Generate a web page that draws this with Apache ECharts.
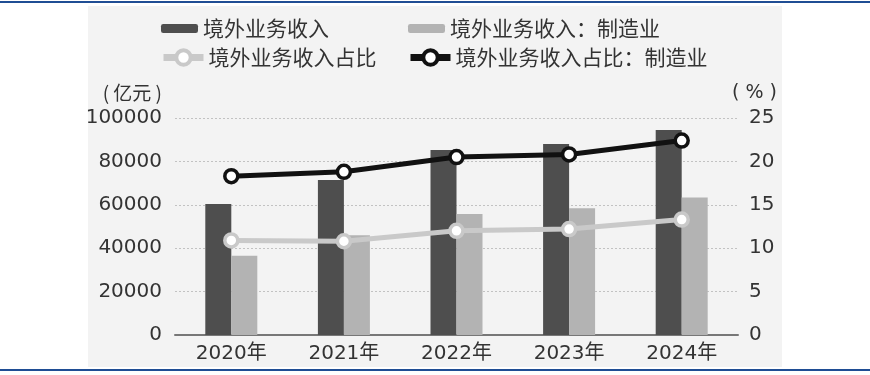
<!DOCTYPE html>
<html>
<head>
<meta charset="utf-8">
<script src="https://cdn.jsdelivr.net/npm/echarts@6/dist/echarts.min.js"></script>
<style>
html,body{margin:0;padding:0;background:#fff;}
#c{width:870px;height:375px;}
</style>
</head>
<body>
<div id="c"></div>
<script>
var categories = ['2020年', '2021年', '2022年', '2023年', '2024年'];
var revenue = [60400, 71400, 85300, 88000, 94500];
var mfgRevenue = [36500, 46000, 55800, 58400, 63400];
var share = [10.9, 10.8, 12.0, 12.2, 13.3];
var mfgShare = [18.3, 18.8, 20.5, 20.8, 22.4];
var leftTicks = [0, 100000, 20000];
var rightTicks = [0, 25, 5];

var FONT = 'DejaVu Sans, "Noto Sans CJK SC", sans-serif';
var CJK = '"Noto Sans CJK SC", sans-serif';
var TXT = '#333333';

var chart = echarts.init(document.getElementById('c'), null, {renderer: 'canvas'});
function legend(name, left, top, w, h, isLine, col) {
  var l = {
    data: [name], left: left, top: top, itemWidth: w, itemHeight: h, itemGap: 9,
    textStyle: {fontSize: 21, color: TXT, fontFamily: CJK}, padding: 0
  };
  if (isLine) {
    l.lineStyle = {width: 7, color: col};
    l.itemStyle = {color: '#ffffff', borderColor: col, borderWidth: 4};
  }
  return l;
}
chart.setOption({
  backgroundColor: '#ffffff',
  animation: false,
  textStyle: {fontFamily: FONT},
  graphic: [
    {type: 'rect', shape: {x: 88, y: 6, width: 694, height: 361}, style: {fill: '#f3f3f3'}, z: -10},
    {type: 'rect', shape: {x: 0, y: 1, width: 870, height: 2}, style: {fill: '#1f4d94'}},
    {type: 'rect', shape: {x: 0, y: 369, width: 870, height: 2}, style: {fill: '#1f4d94'}},
    {type: 'text', style: {text: '( 亿元 )', x: 162, y: 93, align: 'right', verticalAlign: 'middle', fill: TXT, font: '19px ' + CJK}},
    {type: 'text', style: {text: '( % )', x: 777, y: 93, align: 'right', verticalAlign: 'middle', fill: TXT, font: '19px ' + FONT}}
  ],
  legend: [
    legend('境外业务收入', 161, 18, 37, 9, false),
    legend('境外业务收入：制造业', 408, 18, 37, 9, false),
    legend('境外业务收入占比', 160, 47, 40, 18, true, '#c9c9c9'),
    legend('境外业务收入占比：制造业', 407, 47, 40, 18, true, '#111111')
  ],
  grid: {left: 175, right: 132, top: 118, bottom: 40},
  xAxis: {
    type: 'category', data: categories, boundaryGap: true,
    axisLine: {lineStyle: {color: '#777', width: 2}},
    axisTick: {show: false},
    axisLabel: {fontSize: 20, color: TXT, margin: 9, fontFamily: FONT}
  },
  yAxis: [
    {
      type: 'value', min: leftTicks[0], max: leftTicks[1], interval: leftTicks[2],
      axisLine: {show: false}, axisTick: {show: false},
      axisLabel: {fontSize: 20, color: TXT, margin: 13, fontFamily: FONT,
                  formatter: function (v) { return String(v); }},
      splitLine: {show: true, lineStyle: {color: '#c2c2c2', type: [2, 2], width: 1}}
    },
    {
      type: 'value', min: rightTicks[0], max: rightTicks[1], interval: rightTicks[2],
      axisLine: {show: false}, axisTick: {show: false},
      axisLabel: {fontSize: 20, color: TXT, margin: 11, fontFamily: FONT},
      splitLine: {show: false}
    }
  ],
  series: [
    {name: '境外业务收入', type: 'bar', data: revenue, barWidth: 26, barGap: '0%',
     itemStyle: {color: '#4e4e4e'}},
    {name: '境外业务收入：制造业', type: 'bar', data: mfgRevenue, barWidth: 26, barGap: '0%',
     itemStyle: {color: '#b3b3b3'}},
    {name: '境外业务收入占比', type: 'line', yAxisIndex: 1, data: share,
     symbol: 'circle', symbolSize: 13, z: 5,
     lineStyle: {color: '#c9c9c9', width: 5},
     itemStyle: {color: '#ffffff', borderColor: '#c9c9c9', borderWidth: 3.5}},
    {name: '境外业务收入占比：制造业', type: 'line', yAxisIndex: 1, data: mfgShare,
     symbol: 'circle', symbolSize: 13, z: 6,
     lineStyle: {color: '#111111', width: 5},
     itemStyle: {color: '#ffffff', borderColor: '#111111', borderWidth: 3.5}}
  ]
});
</script>
</body>
</html>
